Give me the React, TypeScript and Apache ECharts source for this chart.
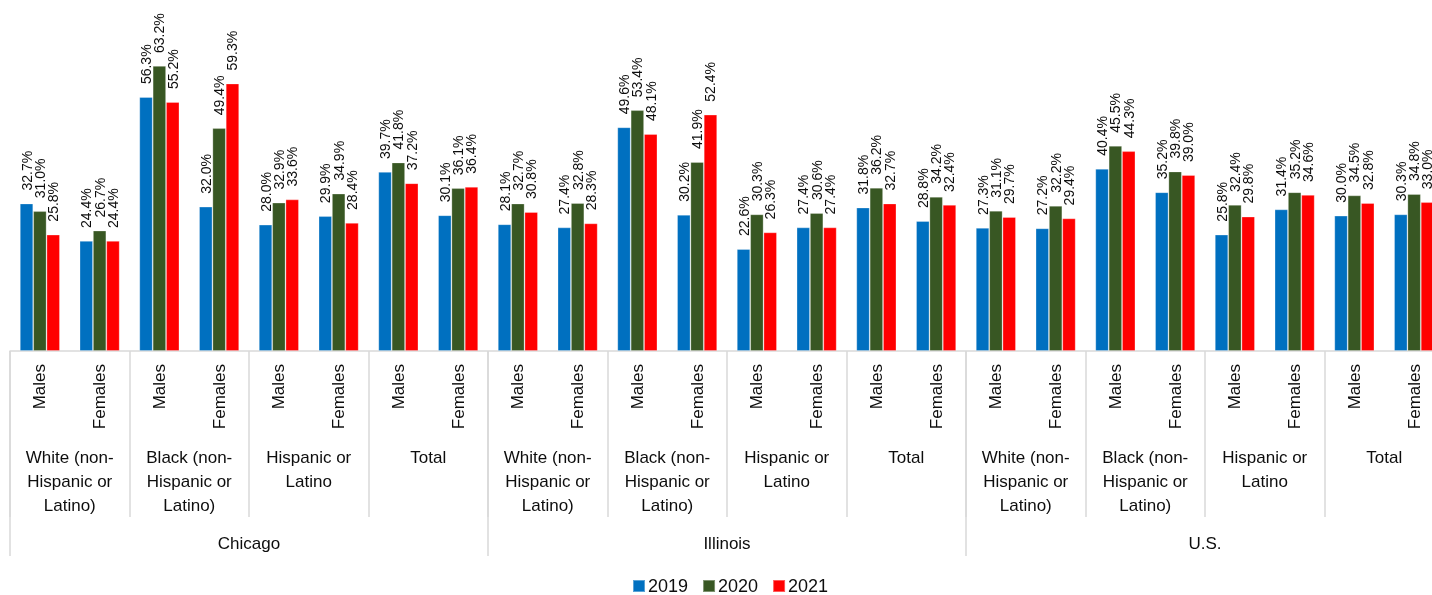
import React, { useEffect, useRef } from "react";
import * as echarts from "echarts";

// Sex categories, repeated for every race/ethnicity group
const sexes = ["Males", "Females"];
const groups = [
  "White (non-\nHispanic or\nLatino)",
  "Black (non-\nHispanic or\nLatino)",
  "Hispanic or\nLatino",
  "Total",
];
const regions = ["Chicago", "Illinois", "U.S."];
const years = ["2019", "2020", "2021"];

// Values in %, ordered region → group → sex
const values2019 = [
  32.7, 24.4, 56.3, 32.0, 28.0, 29.9, 39.7, 30.1,
  28.1, 27.4, 49.6, 30.2, 22.6, 27.4, 31.8, 28.8,
  27.3, 27.2, 40.4, 35.2, 25.8, 31.4, 30.0, 30.3,
];
const values2020 = [
  31.0, 26.7, 63.2, 49.4, 32.9, 34.9, 41.8, 36.1,
  32.7, 32.8, 53.4, 41.9, 30.3, 30.6, 36.2, 34.2,
  31.1, 32.2, 45.5, 39.8, 32.4, 35.2, 34.5, 34.8,
];
const values2021 = [
  25.8, 24.4, 55.2, 59.3, 33.6, 28.4, 37.2, 36.4,
  30.8, 28.3, 48.1, 52.4, 26.3, 27.4, 32.7, 32.4,
  29.7, 29.4, 44.3, 39.0, 29.8, 34.6, 32.8, 33.0,
];

const colors = ["#0070C0", "#385723", "#FF0000"];

const FONT = "'Liberation Sans', Arial, sans-serif";
const TEXT = "#0d0d0d";
const LINE = "#D9D9D9";

export default function App() {
  const ref = useRef<HTMLDivElement>(null);

  useEffect(() => {
    if (!ref.current) return;
    const chart = echarts.init(ref.current, null, { renderer: "svg" });

    const sexCats: string[] = [];
    const groupCats: string[] = [];
    regions.forEach((r) => {
      groups.forEach((g) => {
        groupCats.push(g);
        sexes.forEach((s) => sexCats.push(s));
      });
    });

    const seriesData = [values2019, values2020, values2021];

    chart.setOption({
      animation: false,
      textStyle: { fontFamily: FONT },
      // the plot runs past the right edge of the visible frame
      grid: { left: 10, width: 1434, top: 35.3, bottom: 244, containLabel: false },
      legend: {
        data: years,
        left: 632,
        top: 577,
        padding: 0,
        itemWidth: 12,
        itemHeight: 12,
        itemGap: 14,
        icon: "rect",
        textStyle: { fontSize: 18, color: TEXT, fontFamily: FONT, padding: [0, 0, 0, -2] },
      },
      xAxis: [
        {
          type: "category",
          data: sexCats,
          position: "bottom",
          axisLine: { show: true, lineStyle: { color: LINE, width: 1.5 } },
          axisTick: { show: false },
          axisLabel: {
            interval: 0,
            rotate: 90,
            margin: 13,
            fontSize: 17,
            color: TEXT,
            fontFamily: FONT,
          },
        },
        {
          type: "category",
          data: groupCats,
          position: "bottom",
          axisLine: { show: false },
          axisTick: {
            show: true,
            interval: 0,
            length: 166,
            lineStyle: { color: LINE, width: 1.5 },
          },
          axisLabel: {
            interval: 0,
            margin: 94,
            fontSize: 17,
            lineHeight: 24,
            color: TEXT,
            fontFamily: FONT,
            align: "center",
          },
        },
        {
          type: "category",
          data: regions,
          position: "bottom",
          axisLine: { show: false },
          axisTick: {
            show: true,
            interval: 0,
            length: 205,
            lineStyle: { color: LINE, width: 1.5 },
          },
          axisLabel: {
            interval: 0,
            margin: 180,
            fontSize: 17,
            lineHeight: 24,
            color: TEXT,
            fontFamily: FONT,
          },
        },
      ],
      yAxis: { type: "value", min: 0, max: 70, show: false },
      series: years.map((y, i) => ({
        name: y,
        type: "bar",
        xAxisIndex: 0,
        data: seriesData[i],
        barGap: "0%",
        barCategoryGap: "33%",
        itemStyle: {
          color: colors[i],
          borderColor: "rgba(255,255,255,0.35)",
          borderWidth: 0.8,
        },
        label: {
          show: true,
          position: "top",
          rotate: 90,
          align: "left",
          verticalAlign: "middle",
          distance: 13,
          fontSize: 14,
          color: TEXT,
          fontFamily: FONT,
          formatter: (p: any) => `${Number(p.value).toFixed(1)}%`,
        },
      })),
    });

    return () => chart.dispose();
  }, []);

  return (
    <div
      style={{
        position: "fixed",
        left: 0,
        top: 0,
        width: 1432,
        height: 595,
        overflow: "hidden",
      }}
    >
      <div ref={ref} style={{ width: 1460, height: 595 }} />
    </div>
  );
}
